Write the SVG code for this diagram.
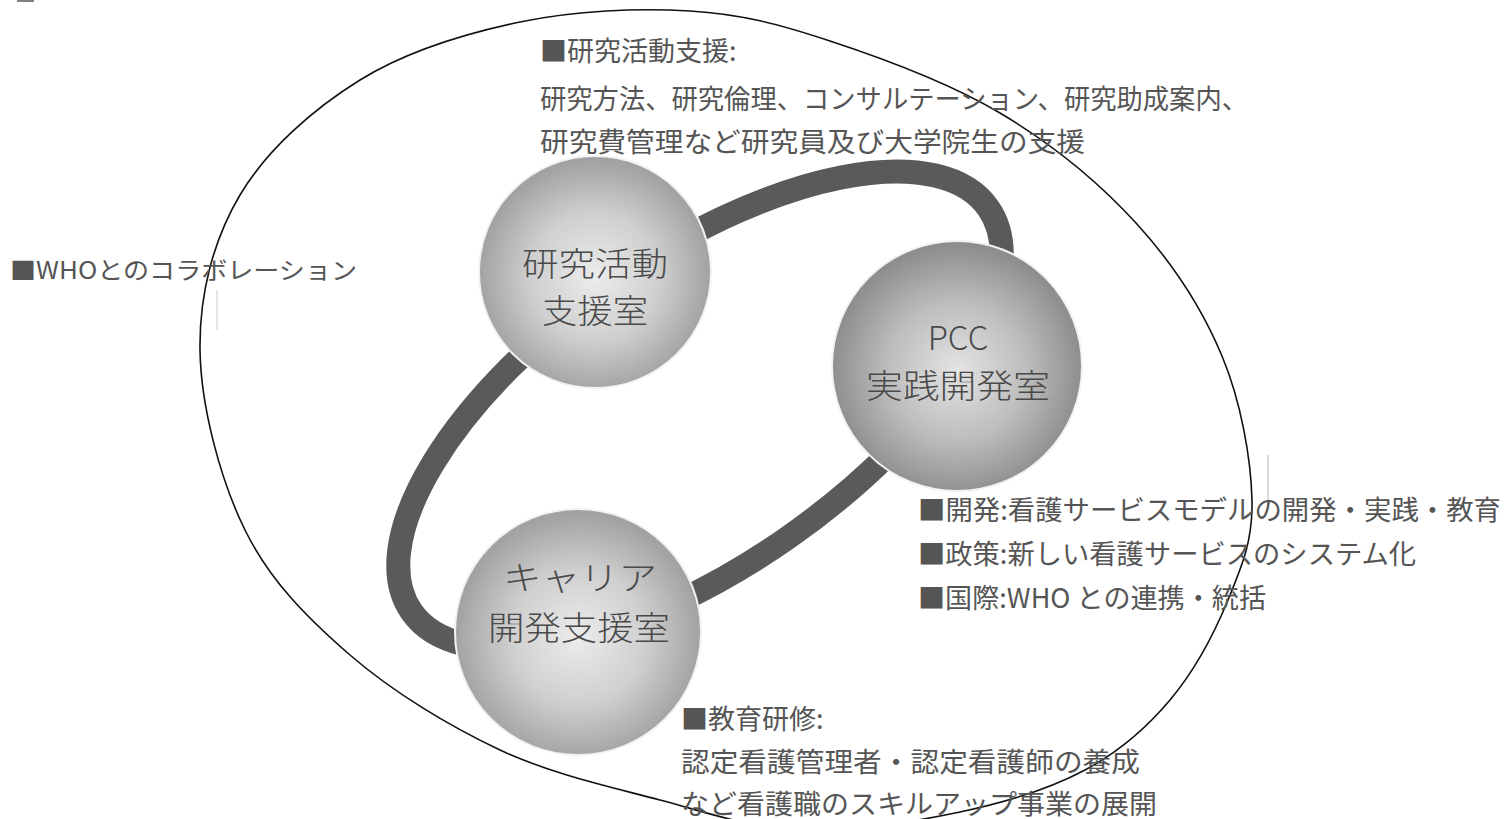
<svg xmlns="http://www.w3.org/2000/svg" width="1506" height="819" viewBox="0 0 1506 819">
<style>
.note{font-family:"Noto Sans CJK JP","Liberation Sans",sans-serif;font-size:27px;fill:#555555}
.who{font-family:"Noto Sans CJK JP","Liberation Sans",sans-serif;font-size:24px;fill:#555555}
.lbl{font-family:"Noto Sans CJK JP","Liberation Sans",sans-serif;font-size:33px;fill:#4a4a4a;font-weight:300;text-anchor:middle}
.sph{stroke:#f2f2f2;stroke-width:2}
</style>
<defs>
<radialGradient id="g1" cx="50%" cy="52%" r="50%">
<stop offset="0" stop-color="#ececec"/>
<stop offset="0.55" stop-color="#cfcfcf"/>
<stop offset="1" stop-color="#a2a2a2"/>
</radialGradient>
<radialGradient id="g2" cx="50%" cy="52%" r="50%">
<stop offset="0" stop-color="#e4e4e4"/>
<stop offset="0.55" stop-color="#bdbdbd"/>
<stop offset="1" stop-color="#8e8e8e"/>
</radialGradient>
</defs>
<rect width="1506" height="819" fill="#ffffff"/>
<rect x="17" y="0" width="17" height="2" fill="#808080"/>
<line x1="1268" y1="455" x2="1268" y2="505" stroke="#cfcfcf" stroke-width="1.5"/>
<line x1="217" y1="290" x2="217" y2="330" stroke="#dddddd" stroke-width="1.5"/>

<g id="connectors">
<ellipse cx="700" cy="410" rx="352" ry="155" transform="rotate(-35 700 410)" fill="none" stroke="#5a5a5a" stroke-width="24"/>
</g>

<g id="node-research">
<circle class="sph" cx="595" cy="272" r="116" fill="url(#g1)"/>
<text class="lbl" x="595" y="276" textLength="146" lengthAdjust="spacingAndGlyphs">研究活動</text>
<text class="lbl" x="595" y="323" textLength="106" lengthAdjust="spacingAndGlyphs">支援室</text>
</g>
<g id="node-pcc">
<circle class="sph" cx="957" cy="366" r="125" fill="url(#g2)"/>
<text class="lbl" x="958" y="350">PCC</text>
<text class="lbl" x="958" y="398" textLength="184" lengthAdjust="spacingAndGlyphs">実践開発室</text>
</g>
<g id="node-career">
<circle class="sph" cx="578" cy="632" r="123" fill="url(#g1)"/>
<text class="lbl" x="580" y="590" textLength="154" lengthAdjust="spacingAndGlyphs">キャリア</text>
<text class="lbl" x="579" y="640" textLength="182" lengthAdjust="spacingAndGlyphs">開発支援室</text>
</g>

<g id="outer">
<path d="M200,350 C199.2,294.2 213.3,240 240,195 C266.7,150 313.3,108.8 360,80 C406.7,51.2 465,33.5 520,22 C575,10.5 638.3,7.8 690,11 C741.7,14.2 778.3,24 830,41 C881.7,58 949,82.7 1000,113 C1051,143.3 1099,182.5 1136,223 C1173,263.5 1202.7,309.8 1222,356 C1241.3,402.2 1251,459.3 1252,500 C1253,540.7 1241.7,566.7 1228,600 C1214.3,633.3 1193.8,671.7 1170,700 C1146.2,728.3 1120,751.3 1085,770 C1050,788.7 1007.5,802 960,812 C912.5,822 850,832 800,830 C750,828 710,813.3 660,800 C610,786.7 551.7,774.2 500,750 C448.3,725.8 392.5,691.7 350,655 C307.5,618.3 270,580.8 245,530 C220,479.2 200.8,405.8 200,350 Z" fill="none" stroke="#111111" stroke-width="1.6"/>
</g>

<g id="notes">
<text class="note" x="540" y="61">■研究活動支援:</text>
<text class="note" x="540" y="109" textLength="708" lengthAdjust="spacingAndGlyphs">研究方法、研究倫理、コンサルテーション、研究助成案内、</text>
<text class="note" x="540" y="152" textLength="545" lengthAdjust="spacingAndGlyphs">研究費管理など研究員及び大学院生の支援</text>
<text class="who" x="10" y="279" textLength="347" lengthAdjust="spacingAndGlyphs">■WHOとのコラボレーション</text>
<text class="note" x="918" y="520" textLength="583" lengthAdjust="spacingAndGlyphs">■開発:看護サービスモデルの開発・実践・教育</text>
<text class="note" x="918" y="564" textLength="498" lengthAdjust="spacingAndGlyphs">■政策:新しい看護サービスのシステム化</text>
<text class="note" x="918" y="608" textLength="348" lengthAdjust="spacingAndGlyphs">■国際:WHO との連携・統括</text>
<text class="note" x="681" y="729">■教育研修:</text>
<text class="note" x="681" y="772" textLength="459" lengthAdjust="spacingAndGlyphs">認定看護管理者・認定看護師の養成</text>
<text class="note" x="681" y="814" textLength="476" lengthAdjust="spacingAndGlyphs">など看護職のスキルアップ事業の展開</text>
</g>
</svg>
